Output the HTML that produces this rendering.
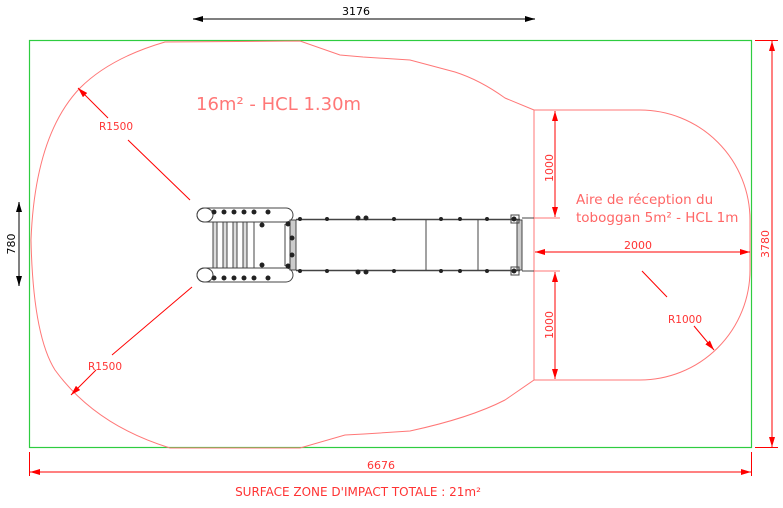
<!DOCTYPE html>
<html><head><meta charset="utf-8"><style>
body{margin:0;background:#fff}
svg{display:block}
text{font-family:"DejaVu Sans","Liberation Sans",sans-serif}
</style></head><body>
<svg width="783" height="508" viewBox="0 0 783 508" xmlns="http://www.w3.org/2000/svg">
<defs>
<marker id="ar" viewBox="0 0 10 6" refX="10" refY="3" markerWidth="10" markerHeight="6" orient="auto-start-reverse" markerUnits="userSpaceOnUse"><path d="M0,0 L10,3 L0,6z" fill="#f00"/></marker>
<marker id="ak" viewBox="0 0 10 6" refX="10" refY="3" markerWidth="10" markerHeight="6" orient="auto-start-reverse" markerUnits="userSpaceOnUse"><path d="M0,0 L10,3 L0,6z" fill="#000"/></marker>
</defs>
<!-- green boundary -->
<rect x="29.5" y="40.5" width="722" height="407" fill="none" stroke="#2ecc40" stroke-width="1.2"/>
<!-- main outline -->
<path d="M534,110 L505,98 Q480,80 455,72 L410,60 L363,57 L340,55 L300,41 L165,42 Q110,58 80,88 Q35,135 31,240 Q33,335 55,370 Q95,425 170,448 L300,448 L345,435 L364,434 L410,431 Q470,418 505,400 L534,380 Z" fill="none" stroke="#f77" stroke-width="1"/>
<!-- right area -->
<path d="M534,110 L640,110 A110,110 0 0 1 750,220 L750,270 A110,110 0 0 1 640,380 L534,380" fill="none" stroke="#f77" stroke-width="1"/>
<!-- dims 1000 -->
<line x1="555" y1="111" x2="555" y2="217" stroke="#f00" marker-start="url(#ar)" marker-end="url(#ar)"/>
<line x1="534" y1="218" x2="560" y2="218" stroke="#f77"/>
<line x1="555" y1="272" x2="555" y2="379" stroke="#f00" marker-start="url(#ar)" marker-end="url(#ar)"/>
<line x1="534" y1="271" x2="560" y2="271" stroke="#f77"/>
<text transform="translate(553,168) rotate(-90)" font-size="11" fill="#f33" text-anchor="middle">1000</text>
<text transform="translate(553,325) rotate(-90)" font-size="11" fill="#f33" text-anchor="middle">1000</text>
<!-- 2000 -->
<line x1="535" y1="252" x2="750" y2="252" stroke="#f00" marker-start="url(#ar)" marker-end="url(#ar)"/>
<text x="638" y="249" font-size="11" fill="#f33" text-anchor="middle">2000</text>
<text x="576" y="204" font-size="13.5" fill="#f66">Aire de réception du</text>
<text x="576" y="222" font-size="13.5" fill="#f66">toboggan 5m² - HCL 1m</text>
<!-- R1000 -->
<line x1="642" y1="271" x2="667" y2="297" stroke="#f00"/>
<line x1="694" y1="326" x2="714" y2="350" stroke="#f00" marker-end="url(#ar)"/>
<text x="668" y="323" font-size="10.5" fill="#f33">R1000</text>
<!-- R1500 -->
<line x1="190" y1="200" x2="128" y2="140" stroke="#f00"/>
<line x1="108" y1="118" x2="78" y2="88" stroke="#f00" marker-end="url(#ar)"/>
<text x="99" y="130" font-size="10.5" fill="#f33">R1500</text>
<line x1="192" y1="287" x2="112" y2="355" stroke="#f00"/>
<line x1="96" y1="370" x2="71" y2="395" stroke="#f00" marker-end="url(#ar)"/>
<text x="88" y="370" font-size="10.5" fill="#f33">R1500</text>
<text x="196" y="110" font-size="18" fill="#f77">16m² - HCL 1.30m</text>
<!-- top dim -->
<line x1="193" y1="19" x2="535" y2="19" stroke="#555" stroke-width="1.5" marker-start="url(#ak)" marker-end="url(#ak)"/>
<text x="356" y="15" font-size="11" fill="#000" text-anchor="middle">3176</text>
<!-- left dim -->
<line x1="19" y1="202" x2="19" y2="286" stroke="#555" stroke-width="1.5" marker-start="url(#ak)" marker-end="url(#ak)"/>
<text transform="translate(15,244) rotate(-90)" font-size="11" fill="#000" text-anchor="middle">780</text>
<!-- right dim -->
<line x1="755" y1="40.5" x2="778" y2="40.5" stroke="#f00"/>
<line x1="755" y1="447.5" x2="778" y2="447.5" stroke="#f00"/>
<line x1="772" y1="41" x2="772" y2="447" stroke="#f00" marker-start="url(#ar)" marker-end="url(#ar)"/>
<text transform="translate(769,244) rotate(-90)" font-size="11" fill="#f33" text-anchor="middle">3780</text>
<!-- bottom dim -->
<line x1="29.5" y1="452" x2="29.5" y2="476" stroke="#f00"/>
<line x1="751.5" y1="452" x2="751.5" y2="476" stroke="#f00"/>
<line x1="30" y1="472" x2="751" y2="472" stroke="#f00" marker-start="url(#ar)" marker-end="url(#ar)"/>
<text x="381" y="469" font-size="11" fill="#f33" text-anchor="middle">6676</text>
<text x="358" y="496" font-size="12" fill="#f33" text-anchor="middle">SURFACE ZONE D'IMPACT TOTALE : 21m²</text>
<!-- play structure -->
<g stroke="#444" fill="none" stroke-width="1">
<rect x="197" y="208" width="96" height="14" rx="7"/>
<rect x="197" y="268" width="96" height="14" rx="7"/>
<ellipse cx="205" cy="215" rx="8" ry="7"/>
<ellipse cx="205" cy="275" rx="8" ry="7"/>
<rect x="213" y="222" width="4" height="46" fill="#ddd"/>
<rect x="223" y="222" width="4" height="46" fill="#ddd"/>
<rect x="233" y="222" width="4" height="46" fill="#ddd"/>
<rect x="243" y="222" width="4" height="46" fill="#ddd"/>
<line x1="254" y1="222" x2="254" y2="268"/>
<rect x="290" y="220" width="6" height="50" fill="#ccc"/>
<line x1="285" y1="224" x2="285" y2="266"/>
<line x1="296" y1="219.5" x2="520" y2="219.5" stroke-width="1.5"/>
<line x1="296" y1="270.5" x2="520" y2="270.5" stroke-width="1.5"/>
<line x1="426" y1="220" x2="426" y2="270"/>
<line x1="478" y1="220" x2="478" y2="270"/>
<rect x="517" y="220" width="5" height="50" fill="#ccc"/>
<rect x="511" y="215" width="8" height="8"/>
<rect x="511" y="267" width="8" height="8"/>
<line x1="522" y1="218" x2="534" y2="218"/>
<line x1="522" y1="271" x2="534" y2="271"/>
</g>
<g fill="#222">
<circle cx="214" cy="212" r="2.5"/><circle cx="224" cy="212" r="2.5"/><circle cx="234" cy="212" r="2.5"/><circle cx="244" cy="212" r="2.5"/><circle cx="254" cy="212" r="2.5"/><circle cx="268" cy="212" r="2.5"/>
<circle cx="214" cy="278" r="2.5"/><circle cx="224" cy="278" r="2.5"/><circle cx="234" cy="278" r="2.5"/><circle cx="244" cy="278" r="2.5"/><circle cx="254" cy="278" r="2.5"/><circle cx="268" cy="278" r="2.5"/>
<circle cx="262" cy="225" r="2.5"/><circle cx="262" cy="265" r="2.5"/>
<circle cx="288" cy="224" r="2.5"/><circle cx="288" cy="266" r="2.5"/><circle cx="292" cy="238" r="2.5"/><circle cx="292" cy="255" r="2.5"/>
<circle cx="300" cy="219" r="2"/><circle cx="300" cy="271" r="2"/><circle cx="327" cy="219" r="2"/><circle cx="327" cy="271" r="2"/>
<circle cx="358" cy="218" r="2.5"/><circle cx="366" cy="218" r="2.5"/><circle cx="358" cy="272" r="2.5"/><circle cx="366" cy="272" r="2.5"/>
<circle cx="394" cy="219" r="2"/><circle cx="394" cy="271" r="2"/><circle cx="441" cy="219" r="2"/><circle cx="441" cy="271" r="2"/>
<circle cx="460" cy="219" r="2"/><circle cx="460" cy="271" r="2"/><circle cx="487" cy="219" r="2"/><circle cx="487" cy="271" r="2"/>
<circle cx="514" cy="219" r="2.5"/><circle cx="514" cy="271" r="2.5"/>
</g>
</svg>
</body></html>
